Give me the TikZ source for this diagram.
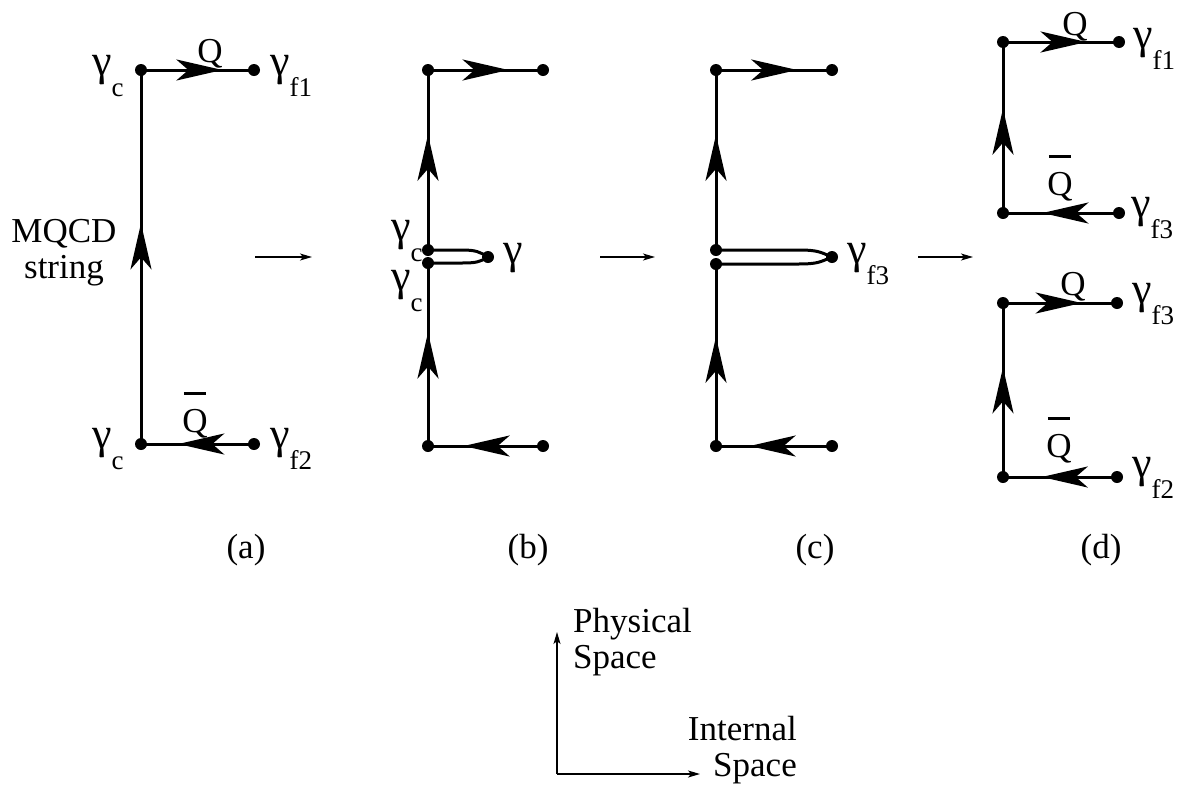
\documentclass[tikz,border=0pt]{standalone}
\usepackage{fontspec}
\setmainfont{Liberation Serif}
\usetikzlibrary{arrows.meta,decorations.markings,positioning}
% gamma with a lowered index
\newcommand{\gam}[1]{{\fontsize{44}{44}\selectfont γ}\raisebox{-21pt}{\fontsize{27}{27}\selectfont #1}}
% Q with a bar
\newcommand{\Qbar}{\ooalign{Q\cr\hidewidth\raisebox{1.05em}{\rule{0.64em}{0.085em}}\hidewidth\cr}}
\tikzset{
  % end point of a string
  DT/.style={circle,fill=black,inner sep=0pt,minimum size=12pt},
  % string segment
  LN/.style={line width=3pt},
  % arrow head inside a segment
  MA/.style={postaction={decorate,decoration={markings,
             mark=at position #1 with {\arrow{Stealth[length=46pt,width=21pt,inset=12pt]}}}}},
  % thin arrows
  arr/.style={line width=1.2pt,-{Stealth[length=12pt,width=7pt,inset=3pt]}},
  % text
  LB/.style={inner sep=0pt,font=\fontsize{35}{36}\selectfont}
}
\begin{document}
\begin{tikzpicture}[x=1pt,y=-1pt]
  \useasboundingbox (0,0) rectangle (1189,788);
  % (a)
  \node[DT] (a1) at (141,70) {};
  \node[DT] (a2) at (254,70) {};
  \node[DT] (a3) at (141,444) {};
  \node[DT] (a4) at (254,444) {};
  \draw[LN,MA=0.72] (a1.center) -- (a2.center);
  \draw[LN,MA=0.59] (a3.center) -- (a1.center);
  \draw[LN,MA=0.67] (a4.center) -- (a3.center);
  \node[LB,anchor=base west] (ga1) at (92,75) {\gam{c}};
  \node[LB,anchor=base west] (ga2) at (270,75) {\gam{f1}};
  \node[LB,anchor=base west] (ga3) at (92,448) {\gam{c}};
  \node[LB,anchor=base west] (ga4) at (270,448) {\gam{f2}};
  \node[LB,anchor=base] (qa) at (210,62) {Q};
  \node[LB,anchor=base] (qba) at (195,432) {\Qbar};
  \node[LB,align=center] (mqcd) at (64,253) {MQCD\\string};
  % (b)
  \node[DT] (b1) at (428,70) {};
  \node[DT] (b2) at (543,70) {};
  \node[DT] (b3) at (428,250) {};
  \node[DT] (b4) at (428,263) {};
  \node[DT] (b5) at (488,257) {};
  \node[DT] (b6) at (428,446) {};
  \node[DT] (b7) at (543,446) {};
  \draw[LN,MA=0.70] (b1.center) -- (b2.center);
  \draw[LN,MA=0.64] (b3.center) -- (b1.center);
  \draw[LN,MA=0.62] (b6.center) -- (b4.center);
  \draw[LN,MA=0.69] (b7.center) -- (b6.center);
  \draw[LN] (b3.center) -- ([xshift=34pt]b3.center)
    .. controls +(14,0) and +(-8,-5) .. (b5.center)
    .. controls +(-8,5) and +(14,0) .. ([xshift=34pt]b4.center) -- (b4.center);
  \node[LB,anchor=base west] (gb1) at (391,240) {\gam{c}};
  \node[LB,anchor=base west] (gb2) at (391,290) {\gam{c}};
  \node[LB,anchor=base west] (gb3) at (503,263) {\gam{}};
  % (c)
  \node[DT] (c1) at (716,70) {};
  \node[DT] (c2) at (832,70) {};
  \node[DT] (c3) at (716,250) {};
  \node[DT] (c4) at (716,264) {};
  \node[DT] (c5) at (832,257) {};
  \node[DT] (c6) at (716,446) {};
  \node[DT] (c7) at (832,446) {};
  \draw[LN,MA=0.70] (c1.center) -- (c2.center);
  \draw[LN,MA=0.64] (c3.center) -- (c1.center);
  \draw[LN,MA=0.60] (c6.center) -- (c4.center);
  \draw[LN,MA=0.71] (c7.center) -- (c6.center);
  \draw[LN] (c3.center) -- ([xshift=82pt]c3.center)
    .. controls +(20,0) and +(-12,-5) .. (c5.center)
    .. controls +(-12,5) and +(20,0) .. ([xshift=82pt]c4.center) -- (c4.center);
  \node[LB,anchor=base west] (gc1) at (847,263) {\gam{f3}};
  % (d)
  \node[DT] (d1) at (1003,42) {};
  \node[DT] (d2) at (1119,42) {};
  \node[DT] (d3) at (1003,213) {};
  \node[DT] (d4) at (1119,213) {};
  \draw[LN,MA=0.72] (d1.center) -- (d2.center);
  \draw[LN,MA=0.61] (d3.center) -- (d1.center);
  \draw[LN,MA=0.66] (d4.center) -- (d3.center);
  \node[DT] (d5) at (1003,303) {};
  \node[DT] (d6) at (1117,303) {};
  \node[DT] (d7) at (1003,477) {};
  \node[DT] (d8) at (1117,477) {};
  \draw[LN,MA=0.69] (d5.center) -- (d6.center);
  \draw[LN,MA=0.63] (d7.center) -- (d5.center);
  \draw[LN,MA=0.66] (d8.center) -- (d7.center);
  \node[LB,anchor=base west] (gd1) at (1133,48) {\gam{f1}};
  \node[LB,anchor=base west] (gd2) at (1131,217) {\gam{f3}};
  \node[LB,anchor=base west] (gd3) at (1132,303) {\gam{f3}};
  \node[LB,anchor=base west] (gd4) at (1132,477) {\gam{f2}};
  \node[LB,anchor=base] (qd1) at (1075,35) {Q};
  \node[LB,anchor=base] (qbd1) at (1060,195) {\Qbar};
  \node[LB,anchor=base] (qd2) at (1073,295) {Q};
  \node[LB,anchor=base] (qbd2) at (1059,457) {\Qbar};
  % steps
  \coordinate (s1) at (255,257);
  \coordinate (s2) at (312,257);
  \coordinate (s3) at (600,257);
  \coordinate (s4) at (655,257);
  \coordinate (s5) at (918,257);
  \coordinate (s6) at (973,257);
  \draw[arr] (s1) -- (s2);
  \draw[arr] (s3) -- (s4);
  \draw[arr] (s5) -- (s6);
  % panel names
  \node[LB,anchor=base] (la) at (246,558) {(a)};
  \node[LB,anchor=base] (lb) at (528,558) {(b)};
  \node[LB,anchor=base] (lc) at (815,558) {(c)};
  \node[LB,anchor=base] (ld) at (1101,558) {(d)};
  % axes
  \coordinate (o) at (557,774);
  \coordinate (py) at (557,632);
  \coordinate (px) at (700,774);
  \draw[arr] (o) -- (py);
  \draw[arr] (o) -- (px);
  \node[LB,align=left,anchor=base west] (phys) at (573,668) {Physical\\Space};
  \node[LB,align=right,anchor=base east] (int) at (797,776) {Internal\\Space};
\end{tikzpicture}
\end{document}
